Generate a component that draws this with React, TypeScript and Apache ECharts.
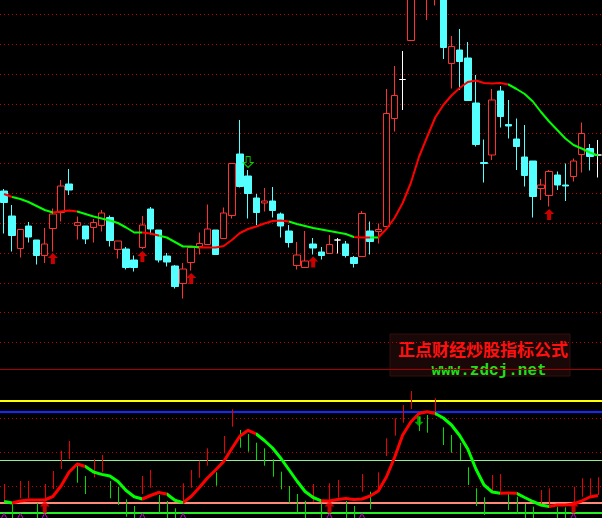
import React, { useEffect, useRef } from 'react';
import * as echarts from 'echarts';

// ---------- main panel: daily candles (price) ----------
const opens = [11.18, 10.68, 10.03, 10.48, 10.20, 9.89, 10.43, 10.75, 11.32, 10.49, 10.48, 10.45, 10.49, 10.65, 10.01, 10.02, 9.80, 10.05, 10.82, 10.40, 9.88, 9.68, 9.33, 9.75, 10.07, 10.11, 10.40, 10.23, 10.69, 11.92, 11.48, 11.04, 10.94, 10.98, 10.72, 10.38, 9.69, 9.65, 10.12, 9.96, 9.93, 10.20, 10.12, 9.85, 9.87, 10.38, 10.37, 10.47, 12.63, 13.41, 14.19, 15.10, 15.08, 15.16, 15.40, 13.73, 14.00, 13.84, 12.94, 11.75, 11.90, 13.18, 12.51, 12.22, 11.86, 11.78, 11.23, 11.09, 11.50, 11.30, 11.47, 11.91, 12.03, 11.90];
const closes = [10.95, 10.29, 10.41, 10.26, 9.89, 10.12, 10.72, 11.28, 11.20, 10.55, 10.22, 10.55, 10.74, 10.19, 10.18, 9.65, 9.65, 10.50, 10.42, 9.80, 9.76, 9.27, 9.62, 10.05, 10.13, 10.42, 9.91, 10.74, 11.73, 11.27, 11.13, 10.75, 10.98, 10.79, 10.48, 10.15, 9.90, 9.78, 10.04, 9.89, 10.11, 10.20, 9.89, 9.73, 10.73, 10.17, 10.41, 12.73, 13.09, 13.41, 15.20, 15.80, 15.60, 15.80, 14.05, 14.07, 13.77, 12.99, 12.11, 11.73, 13.00, 12.67, 12.48, 12.07, 11.49, 11.07, 11.30, 11.57, 11.30, 11.28, 11.78, 12.33, 11.87, 11.90];
const lows = [10.33, 9.97, 9.85, 10.15, 9.71, 9.74, 9.97, 10.57, 11.10, 10.21, 10.12, 10.15, 10.37, 10.07, 9.83, 9.61, 9.57, 10.02, 10.31, 9.75, 9.67, 9.23, 9.03, 9.59, 9.91, 10.11, 9.91, 10.23, 10.63, 11.25, 10.63, 10.50, 10.77, 10.65, 10.25, 10.05, 9.61, 9.65, 9.91, 9.81, 9.93, 9.93, 9.85, 9.65, 9.87, 9.91, 10.13, 10.47, 12.37, 12.80, 14.19, 15.06, 14.60, 14.89, 13.82, 13.23, 13.20, 12.99, 12.07, 11.35, 11.80, 12.45, 12.23, 11.60, 11.27, 10.65, 11.00, 10.87, 11.20, 10.98, 11.37, 11.55, 11.59, 11.45];
const highs = [11.22, 10.90, 10.41, 10.56, 10.20, 10.44, 10.83, 11.40, 11.62, 10.67, 10.48, 10.62, 10.80, 10.69, 10.18, 10.06, 9.89, 10.68, 10.86, 10.40, 9.94, 9.70, 9.74, 10.05, 10.35, 10.91, 10.40, 10.85, 11.73, 12.60, 11.60, 11.12, 11.24, 11.26, 10.75, 10.50, 10.16, 10.38, 10.24, 10.06, 10.30, 10.24, 10.18, 9.88, 10.78, 10.57, 10.53, 13.22, 13.68, 13.98, 15.30, 16.00, 15.90, 16.00, 15.60, 14.28, 14.42, 14.16, 13.50, 12.21, 13.22, 13.28, 13.00, 12.63, 12.50, 11.78, 11.42, 11.60, 11.57, 11.73, 11.83, 12.55, 12.12, 12.20];
const whiteDoji = [41, 49, 73];

// moving average and where its colour flips (red rising / green falling)
const ma = [11.12, 11.06, 11.02, 10.96, 10.88, 10.80, 10.75, 10.77, 10.79, 10.77, 10.72, 10.67, 10.63, 10.59, 10.54, 10.45, 10.35, 10.35, 10.33, 10.29, 10.25, 10.16, 10.07, 10.07, 10.05, 10.05, 10.05, 10.08, 10.20, 10.34, 10.42, 10.47, 10.53, 10.58, 10.59, 10.57, 10.52, 10.48, 10.44, 10.41, 10.38, 10.35, 10.32, 10.26, 10.25, 10.25, 10.25, 10.42, 10.64, 10.94, 11.34, 11.86, 12.26, 12.65, 12.90, 13.09, 13.24, 13.36, 13.39, 13.34, 13.33, 13.34, 13.31, 13.22, 13.12, 12.97, 12.76, 12.57, 12.40, 12.23, 12.10, 12.03, 11.95, 11.89];
const maBreaks = [0.86, 6.0, 8.8, 17.05, 18.9, 23.9, 34.7, 43.1, 44.85, 46.0, 61.96];

// signal arrows on the price panel
const buyIdx = [6, 17, 23, 38, 67];
const buyPrice = [9.83, 9.87, 9.43, 9.76, 10.71];
const sellIdx = [30];
const sellPrice = [11.76];

// price levels of the dotted grid
const gridPrices = [14.71, 14.11, 13.51, 12.91, 12.33, 11.73, 11.13, 10.53, 9.93, 9.33, 8.75, 8.15];

// ---------- lower panel: oscillator ----------
const osc = [11.5, 10, 12, 13, 13, 13, 16.5, 27, 41, 49, 46.5, 41, 38.6, 37, 31.5, 22.5, 16.3, 14, 17.5, 20.5, 19, 12.7, 10.4, 16.5, 25.5, 35, 43, 51.5, 64.5, 77, 82.7, 79, 72.5, 65, 55, 43.5, 32, 21.5, 15.5, 12.2, 12, 13.5, 14.5, 13.5, 14, 17, 22, 36, 55.5, 78, 91, 99.5, 101.3, 99.5, 95, 88, 77.5, 64, 44, 28, 21, 19.7, 20, 19.7, 15.5, 11.5, 8, 6.5, 8, 8, 9, 12, 16, 17.5];
const oscBreaks = [1.1, 9.86, 17.1, 19.98, 22.1, 31.0, 39.2, 53.0, 61.2, 63.2, 67.3];
const stickHigh = [29, 9.7, 32, 32, 10, 29, 42, 62.3, 72, 47.3, 37, 53.7, 58, 32, 26.3, 13.7, 7, 37, 43, 18, 12, 4.7, 29.7, 43, 52.3, 64.7, 40.7, 77, 103.7, 83, 79, 70.3, 64.7, 53.7, 41.3, 27, 19, 12.3, 29, 9.7, 29.7, 33, 12, 7, 39, 21.3, 40.7, 74.7, 94.7, 108, 122, 96.3, 98, 114.7, 85.7, 78, 70.3, 45.7, 24.7, 15.7, 38, 39, 19.7, 16.3, 9, 6.3, 23, 24.7, 6.3, 5.7, 26.3, 34.7, 34.7, 35.7];
const stickLow = [12.3, -5, 14.7, 14.7, -5, 12, 24, 44, 53.7, 30.3, 19, 35.7, 40.7, 14.7, 8, -3.7, -5, 19, 25.3, 0.3, -5, -5, 11.3, 25.3, 35.3, 47.3, 27.3, 59.7, 86.3, 65.3, 61.3, 53, 47.3, 36.3, 23.7, 9.7, 0.3, -5, 11.3, -5, 12.3, 15.3, -5, -5, 21.3, 3.7, 23.7, 57, 77.3, 90.3, 104, 82, 80.3, 97.3, 68, 60.3, 53, 28, 7, -2, 20.3, 21.3, 3, -1, -5, -5, 6.3, 7, -5, -5, 8, 16.3, 17, 18];
const stickUp = [1, 0, 1, 1, 0, 1, 1, 1, 1, 0, 0, 1, 1, 0, 0, 0, 0, 1, 1, 0, 0, 0, 1, 1, 1, 1, 0, 1, 1, 0, 0, 0, 0, 0, 0, 0, 0, 0, 1, 0, 1, 1, 0, 0, 1, 0, 1, 1, 1, 1, 1, 0, 0, 1, 0, 0, 0, 0, 0, 0, 1, 1, 0, 0, 0, 0, 1, 1, 0, 0, 1, 1, 1, 1];
const oscBuyIdx = [5, 40, 70];
const oscBuyValue = [6, 6, 6];
const oscSellIdx = [51];
const oscSellValue = [91.7];
const markIdx = [0, 2, 5, 17, 22, 40, 44, 70];
const markValue = [-6, -6, -6, -6, -6, -6, -6, -6];
const oscLevels = { top: 112, high: 101, mid: 52.5, low: 10, base: 0 };
const oscDots = [94.5, 60.5, 26.5];

const days = opens.map((_, i) => String(i + 1));

const RED = '#ff0000';
const GREEN = '#00ff00';
const CYAN = '#54ffff';
const DOT = { color: '#c80000', width: 1, type: [1, 3] as any };
const UP = 'path://M5 0L10 5L7 5L7 11L3 11L3 5L0 5Z';
const DOWN = 'path://M3 0L7 0L7 6L10 6L5 11L0 6L3 6Z';
const CARET = 'path://M0 12L6 0L12 12';

function pieces(breaks: number[], first: string, second: string) {
  const out: any[] = [];
  for (let k = 0; k <= breaks.length; k++) {
    const p: any = { color: k % 2 === 0 ? first : second };
    if (k > 0) p.gte = breaks[k - 1];
    if (k < breaks.length) p.lt = breaks[k];
    out.push(p);
  }
  return out;
}

export default function App() {
  const ref = useRef<HTMLDivElement>(null);
  useEffect(() => {
    document.body.style.margin = '0';
    document.body.style.background = '#000';
    const chart = echarts.init(ref.current!, undefined, { renderer: 'svg' });
    const candleData = opens.map((o, i) => {
      const v = [o, closes[i], lows[i], highs[i]];
      return whiteDoji.includes(i)
        ? { value: v, itemStyle: { color: '#fff', color0: '#fff', borderColor: '#fff', borderColor0: '#fff', borderColorDoji: '#fff' } }
        : v;
    });
    const sticks = stickHigh.map((h, i) => [i, h, stickLow[i], stickUp[i]]);
    const option: any = {
      animation: false,
      backgroundColor: '#000',
      grid: [
        { left: -1, top: 0, width: 603, height: 369 },
        { left: -1, top: 401, width: 603, height: 112 },
      ],
      xAxis: [
        {
          type: 'category', gridIndex: 0, data: days, boundaryGap: true,
          axisLine: { show: true, lineStyle: { color: '#a80000', width: 1 } },
          axisTick: { show: false }, axisLabel: { show: false }, splitLine: { show: false },
        },
        {
          type: 'category', gridIndex: 1, data: days, boundaryGap: true,
          axisLine: { show: false }, axisTick: { show: false }, axisLabel: { show: false }, splitLine: { show: false },
        },
      ],
      yAxis: [
        { type: 'value', gridIndex: 0, min: 7.62, max: 15, show: false, splitLine: { show: false } },
        { type: 'value', gridIndex: 1, min: 0, max: 112, show: false, splitLine: { show: false } },
      ],
      visualMap: [
        { type: 'piecewise', show: false, seriesIndex: 1, dimension: 0, pieces: pieces(maBreaks, RED, GREEN) },
        { type: 'piecewise', show: false, seriesIndex: 5, dimension: 0, pieces: pieces(oscBreaks, GREEN, RED) },
      ],
      series: [
        {
          type: 'candlestick', xAxisIndex: 0, yAxisIndex: 0, z: 10, clip: false, barWidth: 7,
          data: candleData,
          itemStyle: { color: '#000', color0: CYAN, borderColor: '#ff3030', borderColor0: CYAN, borderColorDoji: '#fff', borderWidth: 1 },
        },
        {
          type: 'line', xAxisIndex: 0, yAxisIndex: 0, z: 11, data: ma, showSymbol: false, smooth: false,
          lineStyle: { width: 2 },
          markLine: {
            silent: true, symbol: ['none', 'none'], label: { show: false },
            lineStyle: DOT,
            data: gridPrices.map((p) => ({ yAxis: p, lineStyle: DOT })),
          },
        },
        {
          type: 'scatter', xAxisIndex: 0, yAxisIndex: 0, z: 12, clip: false,
          symbol: UP, symbolSize: [10, 11],
          data: buyIdx.map((i, k) => [i, buyPrice[k]]),
          itemStyle: { color: RED },
        },
        {
          type: 'scatter', xAxisIndex: 0, yAxisIndex: 0, z: 12, clip: false,
          symbol: DOWN, symbolSize: [10, 11],
          data: sellIdx.map((i, k) => [i, sellPrice[k]]),
          itemStyle: { color: 'rgba(0,0,0,0)', borderColor: GREEN, borderWidth: 1 },
        },
        {
          type: 'custom', xAxisIndex: 1, yAxisIndex: 1, z: 10, clip: false,
          data: sticks,
          encode: { x: 0, y: [1, 2] },
          renderItem: (params: any, api: any) => {
            const i = api.value(0);
            const p1 = api.coord([i, api.value(1)]);
            const p2 = api.coord([i, api.value(2)]);
            const x = Math.round(p1[0]) + 0.5;
            return {
              type: 'line',
              shape: { x1: x, y1: p1[1], x2: x, y2: p2[1] },
              style: { stroke: api.value(3) > 0 ? '#ee0000' : '#00dd00', lineWidth: 1 },
            };
          },
        },
        {
          type: 'line', xAxisIndex: 1, yAxisIndex: 1, z: 11, data: osc, showSymbol: false,
          lineStyle: { width: 3 },
          markLine: {
            silent: true, symbol: ['none', 'none'], label: { show: false },
            data: [
              { yAxis: oscLevels.top, lineStyle: { color: '#ffff00', width: 2, type: 'solid' } },
              { yAxis: oscLevels.high, lineStyle: { color: '#1428ff', width: 2, type: 'solid' } },
              { yAxis: oscLevels.mid, lineStyle: { color: '#90ee90', width: 1, type: 'solid' } },
              { yAxis: oscLevels.low, lineStyle: { color: '#ff8a7a', width: 2, type: 'solid' } },
              { yAxis: oscLevels.base, lineStyle: { color: '#22ee22', width: 2, type: 'solid' } },
              ...oscDots.map((v) => ({ yAxis: v, lineStyle: DOT })),
            ],
          },
        },
        {
          type: 'scatter', xAxisIndex: 1, yAxisIndex: 1, z: 12, clip: false,
          symbol: UP, symbolSize: [10, 12],
          data: oscBuyIdx.map((i, k) => [i, oscBuyValue[k]]),
          itemStyle: { color: RED },
        },
        {
          type: 'scatter', xAxisIndex: 1, yAxisIndex: 1, z: 12, clip: false,
          symbol: DOWN, symbolSize: [9, 10],
          data: oscSellIdx.map((i, k) => [i, oscSellValue[k]]),
          itemStyle: { color: '#00cc00' },
        },
        {
          type: 'scatter', xAxisIndex: 1, yAxisIndex: 1, z: 12, clip: false,
          symbol: CARET, symbolSize: [12, 12],
          data: markIdx.map((i, k) => [i, markValue[k]]),
          itemStyle: { color: 'rgba(0,0,0,0)', borderColor: '#ff00ff', borderWidth: 1 },
        },
      ],
      graphic: [
        {
          type: 'group', z: 100,
          children: [
            { type: 'rect', shape: { x: 390, y: 334, width: 180, height: 42 }, style: { fill: '#1a0707', stroke: '#331010', lineWidth: 1 } },
            {
              type: 'text', x: 483, y: 348.5,
              style: { text: '正点财经炒股指标公式', fill: '#ff1010', fontSize: 17, lineHeight: 17, fontWeight: 'bold', fontFamily: '"Noto Sans CJK SC"', align: 'center', verticalAlign: 'middle' },
            },
            {
              type: 'text', x: 489, y: 370.5,
              style: { text: 'www.zdcj.net', fill: '#1ee01e', fontSize: 16, lineHeight: 16, fontWeight: 'bold', fontFamily: '"Liberation Mono"', align: 'center', verticalAlign: 'middle' },
            },
          ],
        },
      ],
    };
    chart.setOption(option);
    return () => chart.dispose();
  }, []);
  return <div ref={ref} style={{ position: 'fixed', left: 0, top: 0, width: 602, height: 518, background: '#000' }} />;
}
